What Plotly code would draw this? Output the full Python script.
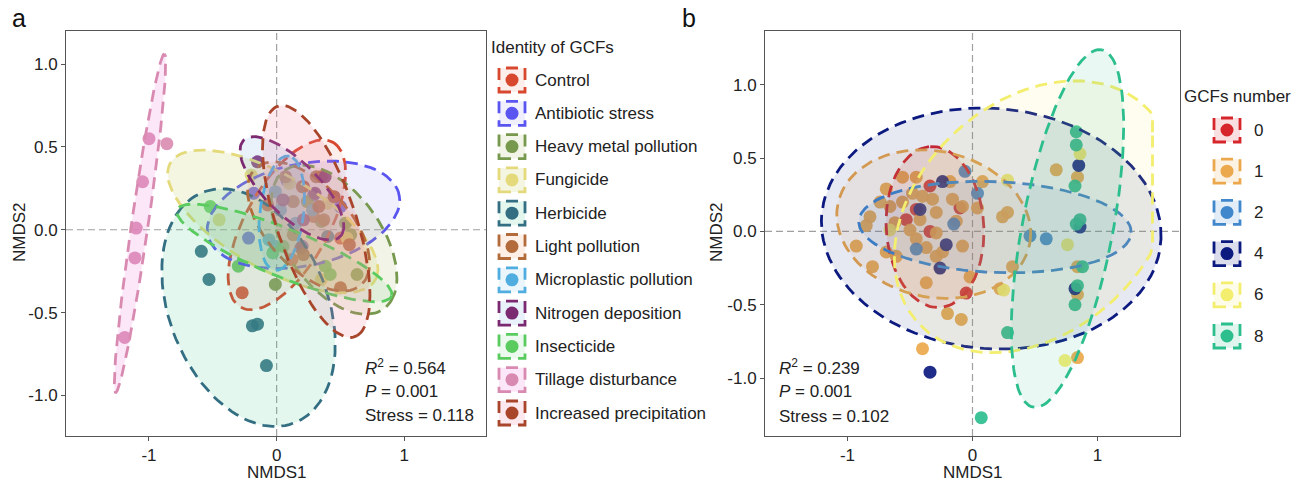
import numpy as np
import plotly.graph_objects as go

W, H = 1303, 481

# ---------------- Panel a data ----------------
a_groups = ["Control", "Antibiotic stress", "Heavy metal pollution", "Fungicide", "Herbicide",
            "Light pollution", "Microplastic pollution", "Nitrogen deposition", "Insecticide",
            "Tillage disturbance", "Increased precipitation"]
a_line_colors = ["#D8482E", "#5A55F0", "#77994D", "#E4DA7C", "#336E82", "#B36B3C",
                 "#4FAEDF", "#7B2A72", "#5ACB5F", "#D98AB0", "#A8452A"]
a_fill_colors = ["rgba(235,120,100,0.13)", "rgba(120,120,240,0.12)", "rgba(170,180,90,0.14)",
                 "rgba(200,210,110,0.20)", "rgba(70,200,140,0.15)", "rgba(240,150,80,0.15)",
                 "rgba(90,180,230,0.13)", "rgba(110,160,230,0.15)", "rgba(110,210,120,0.13)",
                 "rgba(240,120,220,0.18)", "rgba(245,130,160,0.18)"]

a_control_x = [-0.27, -0.07, 0.20, 0.35, 0.12, 0.50]
a_control_y = [-0.38, 0.15, 0.26, 0.32, -0.18, -0.05]
a_antibiotic_x = [-0.18, 0.29, 0.50, -0.22, 0.20, 0.08]
a_antibiotic_y = [0.22, 0.21, 0.14, -0.05, -0.10, 0.30]
a_heavy_x = [0.24, 0.54, 0.58, 0.63, -0.01, 0.35]
a_heavy_y = [0.17, 0.04, -0.03, -0.27, -0.33, 0.05]
a_fungicide_x = [-0.45, 0.40, -0.20, 0.10, 0.55, 0.35]
a_fungicide_y = [0.06, 0.16, 0.33, 0.28, -0.05, -0.30]
a_herbicide_x = [-0.59, -0.53, -0.19, -0.15, -0.08, 0.40]
a_herbicide_y = [-0.13, -0.30, -0.58, -0.57, -0.82, -0.04]
a_light_x = [0.07, 0.31, 0.13, 0.29, 0.37, 0.13]
a_light_y = [0.32, 0.32, 0.17, 0.08, 0.06, -0.03]
a_micro_x = [-0.01, -0.01, 0.03, 0.15, -0.06, 0.28]
a_micro_y = [0.23, -0.10, 0.12, 0.04, -0.06, 0.12]
a_nitrogen_x = [-0.15, 0.38, 0.05, 0.21, 0.19, 0.30]
a_nitrogen_y = [0.41, 0.32, 0.18, 0.06, -0.11, 0.22]
a_insect_x = [-0.52, -0.30, -0.03, 0.05, 0.38, 0.42]
a_insect_y = [0.14, -0.22, -0.14, -0.10, -0.22, -0.27]
a_tillage_x = [-1.00, -0.86, -1.05, -1.10, -1.11, -1.19]
a_tillage_y = [0.55, 0.52, 0.29, 0.01, -0.17, -0.65]
a_precip_x = [0.57, 0.21, 0.50, 0.21, 0.33, 0.45]
a_precip_y = [-0.09, -0.15, -0.35, 0.26, 0.14, 0.20]

# confidence-ellipse parameters (centre, semi-axes, rotation in degrees)
a_ell_cx = [0.08, 0.21, 0.45, -0.03, -0.22, 0.25, 0.04, 0.12, 0.06, -1.07, 0.31]
a_ell_cy = [0.03, 0.09, -0.06, 0.05, -0.47, 0.02, 0.10, 0.25, -0.14, 0.04, 0.05]
a_ell_ra = [0.62, 0.76, 0.58, 0.88, 0.80, 0.55, 0.35, 0.48, 0.88, 1.04, 0.76]
a_ell_rb = [0.30, 0.31, 0.33, 0.30, 0.58, 0.28, 0.17, 0.18, 0.15, 0.065, 0.30]
a_ell_ang = [50, 8, -40, -22, -50, -35, 80, -35, -17, 79.4, -65]

a_xticks = [-1, 0, 1]
a_xticktext = ["-1", "0", "1"]
a_yticks = [-1.0, -0.5, 0.0, 0.5, 1.0]
a_yticktext = ["-1.0", "-0.5", "0.0", "0.5", "1.0"]
a_stats = ["<i>R</i><sup>2</sup> = 0.564", "<i>P</i> = 0.001", "Stress = 0.118"]
a_legend_title = "Identity of GCFs"

# ---------------- Panel b data ----------------
b_groups = ["0", "1", "2", "4", "6", "8"]
b_colors = ["#D7262B", "#EBA84C", "#4187CC", "#0C1A80", "#F3EE6E", "#2DBE8E"]

b0_x = [-0.34, -0.10, -0.34, -0.53, -0.05, -0.45]
b0_y = [0.31, 0.16, 0.00, 0.08, -0.42, 0.15]
b1_x = [-0.56, -0.45, -0.74, -0.66, -0.56, -0.48, -0.32, -0.18, -0.16, -0.08, 0.04, 0.08,
        -0.82, -0.85, -0.93, -0.80, -0.69, -0.61, -0.45, -0.37, -0.29, -0.24, -0.42, -0.50,
        -0.13, -0.08, -0.02, -0.37, -0.20, -0.09, -0.40, 0.24, 0.28, 0.32, 0.22, 0.67,
        0.84, 0.84, 0.84, 0.84, -0.69, -0.29, -0.29, -0.62, -0.40]
b1_y = [0.37, 0.37, 0.20, 0.17, 0.20, 0.26, 0.22, 0.34, 0.22, 0.17, 0.16, 0.34,
        0.10, 0.04, -0.10, -0.24, -0.14, -0.17, -0.05, -0.11, -0.01, -0.14, 0.08, 0.01,
        0.07, -0.10, -0.31, -0.35, -0.56, -0.60, -0.80, 0.10, 0.13, -0.24, -0.39, 0.42,
        0.37, -0.24, -0.43, -0.86, 0.29, 0.13, -0.17, 0.06, 0.24]
b2_x = [-0.06, 0.04, 0.46, 0.59, -0.15, -0.45]
b2_y = [0.41, 0.26, -0.03, -0.05, 0.05, -0.12]
b4_x = [0.85, 0.86, 0.82, -0.34, -0.26, -0.24, -0.42, -0.21]
b4_y = [0.45, 0.03, -0.39, -0.96, -0.25, 0.34, 0.15, -0.09]
b6_x = [0.86, 0.76, 0.74, -0.66, 0.28, 0.25]
b6_y = [0.53, -0.09, -0.88, 0.01, 0.35, -0.40]
b8_x = [0.83, 0.83, 0.82, 0.86, 0.88, 0.84, 0.82, 0.28, 0.07, 0.83]
b8_y = [0.68, 0.59, 0.31, 0.08, -0.24, -0.37, -0.50, -0.69, -1.27, 0.05]

b_ell_cx = [-0.30, -0.31, 0.18, 0.15, 0.49, 0.76]
b_ell_cy = [0.03, 0.05, 0.03, 0.02, 0.10, 0.02]
b_ell_ra = [0.55, 0.78, 1.09, 1.36, 1.19, 1.25]
b_ell_rb = [0.39, 0.50, 0.31, 0.82, 0.83, 0.36]
b_ell_ang = [95, -8, -2, -3, 29, 77]
b_ell_xmax = [None, None, None, None, 1.44, None]

b_xticks = [-1, 0, 1]
b_xticktext = ["-1", "0", "1"]
b_yticks = [-1.0, -0.5, 0.0, 0.5, 1.0]
b_yticktext = ["-1.0", "-0.5", "0.0", "0.5", "1.0"]
b_stats = ["<i>R</i><sup>2</sup> = 0.239", "<i>P</i> = 0.001", "Stress = 0.102"]
b_legend_title = "GCFs number"

a_points_x = [a_control_x, a_antibiotic_x, a_heavy_x, a_fungicide_x, a_herbicide_x, a_light_x,
              a_micro_x, a_nitrogen_x, a_insect_x, a_tillage_x, a_precip_x]
a_points_y = [a_control_y, a_antibiotic_y, a_heavy_y, a_fungicide_y, a_herbicide_y, a_light_y,
              a_micro_y, a_nitrogen_y, a_insect_y, a_tillage_y, a_precip_y]
b_points_x = [b0_x, b1_x, b2_x, b4_x, b6_x, b8_x]
b_points_y = [b0_y, b1_y, b2_y, b4_y, b6_y, b8_y]


def ellipse(cx, cy, ra, rb, ang, xmax=None, n=120):
    t = np.linspace(0, 2 * np.pi, n)
    th = np.deg2rad(ang)
    x = cx + ra * np.cos(t) * np.cos(th) - rb * np.sin(t) * np.sin(th)
    y = cy + ra * np.cos(t) * np.sin(th) + rb * np.sin(t) * np.cos(th)
    if xmax is not None:
        x = np.minimum(x, xmax)
    return x, y


def rgba(hexc, a):
    h = hexc.lstrip("#")
    return "rgba(%d,%d,%d,%.2f)" % (int(h[0:2], 16), int(h[2:4], 16), int(h[4:6], 16), a)


def px(x):
    return x / W


def py(y):
    return 1 - y / H


DASH = "12px,7px"
LW = 2.8
fig = go.Figure()

for i, g in enumerate(a_groups):
    fig.add_trace(go.Scatter(x=a_points_x[i], y=a_points_y[i], mode="markers", xaxis="x", yaxis="y",
                             marker=dict(color=a_line_colors[i], size=13, opacity=0.9),
                             name=g, showlegend=False, hoverinfo="skip"))
for i, g in enumerate(a_groups):
    ex, ey = ellipse(a_ell_cx[i], a_ell_cy[i], a_ell_ra[i], a_ell_rb[i], a_ell_ang[i])
    fig.add_trace(go.Scatter(x=ex, y=ey, mode="lines", fill="toself", fillcolor=a_fill_colors[i],
                             line=dict(color=a_line_colors[i], width=LW, dash=DASH),
                             xaxis="x", yaxis="y", showlegend=False, hoverinfo="skip"))

for i, g in enumerate(b_groups):
    fig.add_trace(go.Scatter(x=b_points_x[i], y=b_points_y[i], mode="markers", xaxis="x2", yaxis="y2",
                             marker=dict(color=b_colors[i], size=13, opacity=0.92),
                             name=g, showlegend=False, hoverinfo="skip"))
for i, g in enumerate(b_groups):
    ex, ey = ellipse(b_ell_cx[i], b_ell_cy[i], b_ell_ra[i], b_ell_rb[i], b_ell_ang[i], b_ell_xmax[i])
    fig.add_trace(go.Scatter(x=ex, y=ey, mode="lines", fill="toself", fillcolor=rgba(b_colors[i], 0.10),
                             line=dict(color=b_colors[i], width=LW, dash=DASH),
                             xaxis="x2", yaxis="y2", showlegend=False, hoverinfo="skip"))

axis_common = dict(showline=True, mirror=True, linecolor="#555", linewidth=1, ticks="outside",
                   ticklen=4, tickcolor="#555", showgrid=False, zeroline=False, automargin=False,
                   tickfont=dict(size=17, color="#222"))
ydom = [py(436), py(31)]

shapes = []
for xr, yr in (("x", "y"), ("x2", "y2")):
    shapes.append(dict(type="line", xref=xr, yref=yr + " domain", x0=0, x1=0, y0=0, y1=1,
                       line=dict(color="#A0A0A0", width=1.2, dash="7px,4px"), layer="below"))
    shapes.append(dict(type="line", xref=xr + " domain", yref=yr, x0=0, x1=1, y0=0, y1=0,
                       line=dict(color="#A0A0A0", width=1.2, dash="7px,4px"), layer="below"))

ann = [
    dict(text="a", x=px(10), y=py(18), xanchor="left", yanchor="middle", font=dict(size=25, color="#111")),
    dict(text="b", x=px(680), y=py(18), xanchor="left", yanchor="middle", font=dict(size=25, color="#111")),
    dict(text="NMDS1", x=px(277), y=py(472.5), xanchor="center", yanchor="middle", font=dict(size=17)),
    dict(text="NMDS1", x=px(973), y=py(472.5), xanchor="center", yanchor="middle", font=dict(size=17)),
    dict(text="NMDS2", x=px(19), y=py(232), xanchor="center", yanchor="middle", textangle=-90, font=dict(size=17)),
    dict(text="NMDS2", x=px(716), y=py(232), xanchor="center", yanchor="middle", textangle=-90, font=dict(size=17)),
]
for k, t in enumerate(a_stats):
    ann.append(dict(text=t, x=px(363), y=py(367 + 24 * k), xanchor="left", yanchor="middle", font=dict(size=17)))
for k, t in enumerate(b_stats):
    ann.append(dict(text=t, x=px(777), y=py(367 + 24.5 * k), xanchor="left", yanchor="middle", font=dict(size=17)))


def legend_key(cx, cy, line_col, fill_col):
    # dashed square key with a point, as in ggplot legends
    s = 13
    shapes.append(dict(type="rect", xref="paper", yref="paper",
                       x0=px(cx - s), x1=px(cx + s), y0=py(cy + 12), y1=py(cy - 12),
                       line=dict(color=line_col, width=2.8, dash="12px,7px"), fillcolor=fill_col))
    r = 6.5
    shapes.append(dict(type="circle", xref="paper", yref="paper",
                       x0=px(cx - r), x1=px(cx + r), y0=py(cy + r), y1=py(cy - r),
                       line=dict(width=0), fillcolor=line_col))


ann.append(dict(text=a_legend_title, x=px(489), y=py(47), xanchor="left", yanchor="middle", font=dict(size=17)))
for i, g in enumerate(a_groups):
    cy = 80 + 33.3 * i
    legend_key(512, cy, a_line_colors[i], a_fill_colors[i])
    ann.append(dict(text=g, x=px(533), y=py(cy), xanchor="left", yanchor="middle", font=dict(size=17)))

ann.append(dict(text=b_legend_title, x=px(1182), y=py(97), xanchor="left", yanchor="middle", font=dict(size=17)))
for i, g in enumerate(b_groups):
    cy = 130 + 41.2 * i
    legend_key(1227, cy, b_colors[i], rgba(b_colors[i], 0.15))
    ann.append(dict(text=g, x=px(1252), y=py(cy), xanchor="left", yanchor="middle", font=dict(size=17)))

for a in ann:
    a.update(xref="paper", yref="paper", showarrow=False)
    a["font"].setdefault("color", "#222")

fig.update_layout(
    width=W, height=H, margin=dict(l=0, r=0, t=0, b=0),
    plot_bgcolor="white", paper_bgcolor="white", showlegend=False,
    font=dict(family="Liberation Sans, Arial, sans-serif", size=17, color="#222"),
    xaxis=dict(domain=[px(66), px(486)], range=[-1.65, 1.64], tickvals=a_xticks, ticktext=a_xticktext,
               anchor="y", **axis_common),
    yaxis=dict(domain=ydom, range=[-1.245, 1.20], tickvals=a_yticks, ticktext=a_yticktext,
               anchor="x", **axis_common),
    xaxis2=dict(domain=[px(765), px(1180)], range=[-1.66, 1.66], tickvals=b_xticks, ticktext=b_xticktext,
                anchor="y2", **axis_common),
    yaxis2=dict(domain=ydom, range=[-1.395, 1.367], tickvals=b_yticks, ticktext=b_yticktext,
                anchor="x2", **axis_common),
    shapes=shapes, annotations=ann,
)

fig.write_html("out.html", config={"displayModeBar": False},
               post_script="document.body.style.margin='0px';")
